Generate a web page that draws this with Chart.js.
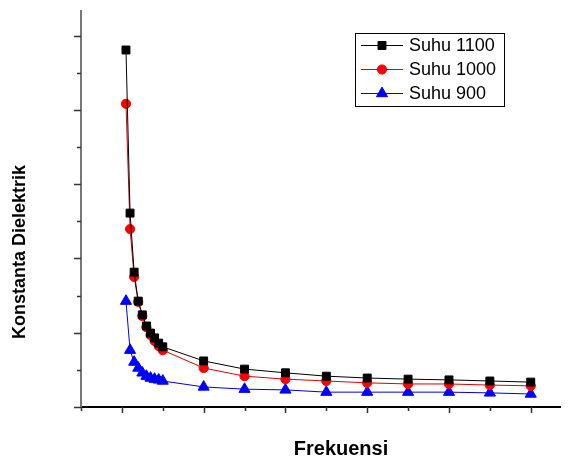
<!DOCTYPE html>
<html>
<head>
<meta charset="utf-8">
<script src="https://cdn.jsdelivr.net/npm/chart.js@4/dist/chart.umd.min.js"></script>
<style>
  body { margin: 0; background: #fff; }
</style>
</head>
<body>
<canvas id="myChart" width="568" height="463"></canvas>
<script>
/* Konstanta dielektrik vs frekuensi */

const freq = [1.1, 1.2, 1.3, 1.4, 1.5, 1.6, 1.7, 1.8, 1.9, 2.0, 3, 4, 5, 6, 7, 8, 9, 10, 11];
const suhu1100 = [9.61, 5.22, 3.63, 2.85, 2.48, 2.18, 1.99, 1.86, 1.72, 1.62, 1.24, 1.02, 0.92, 0.83, 0.78, 0.75, 0.73, 0.70, 0.67];
const suhu1000 = [8.16, 4.79, 3.50, 2.83, 2.45, 2.15, 1.94, 1.78, 1.64, 1.53, 1.05, 0.83, 0.75, 0.70, 0.65, 0.62, 0.62, 0.59, 0.57];
const suhu900 = [2.85, 1.53, 1.21, 1.05, 0.92, 0.83, 0.78, 0.75, 0.73, 0.70, 0.54, 0.48, 0.46, 0.40, 0.40, 0.40, 0.40, 0.38, 0.35];
const xTicks = [0, 1, 2, 3, 4, 5, 6, 7, 8, 9, 10, 11];
const yTicks = [0, 1, 2, 3, 4, 5, 6, 7, 8, 9, 10];

const FONT = '"Liberation Sans", Arial, sans-serif';

function pts(ys) {
  return freq.map((f, i) => ({ x: f, y: ys[i] }));
}

// ticks (major/minor), axis titles and the boxed legend
const extras = {
  id: 'extras',
  afterDraw(chart) {
    const ctx = chart.ctx;
    const xs = chart.scales.x, ys = chart.scales.y;
    const area = chart.chartArea;
    ctx.save();
    ctx.lineWidth = 1.5;
    ctx.strokeStyle = '#333';
    xTicks.forEach(v => {
      const px = Math.round(xs.getPixelForValue(v)) + 0.5;
      const len = v % 2 === 1 ? 6 : 4;
      ctx.beginPath();
      ctx.moveTo(px, area.bottom);
      ctx.lineTo(px, area.bottom + len);
      ctx.stroke();
    });
    yTicks.forEach(v => {
      const py = Math.round(ys.getPixelForValue(v)) + 0.5;
      const len = v % 2 === 0 ? 7 : 4;
      ctx.beginPath();
      ctx.moveTo(area.left - len, py);
      ctx.lineTo(area.left, py);
      ctx.stroke();
    });

    // axis titles
    ctx.fillStyle = '#000';
    ctx.textAlign = 'center';
    ctx.textBaseline = 'middle';
    ctx.font = 'bold 20px ' + FONT;
    ctx.fillText('Frekuensi', 341, 449);
    ctx.translate(20, 252);
    ctx.rotate(-Math.PI / 2);
    ctx.font = 'bold 18px ' + FONT;
    ctx.fillText('Konstanta Dielektrik', 0, 0);
    ctx.setTransform(1, 0, 0, 1, 0, 0);

    // legend
    ctx.strokeStyle = '#000';
    ctx.lineWidth = 1;
    ctx.strokeRect(355.5, 33.5, 149, 73);
    const rows = [45, 69, 93];
    ctx.font = '18px ' + FONT;
    ctx.textAlign = 'left';
    chart.data.datasets.forEach((ds, i) => {
      const y = rows[i];
      ctx.strokeStyle = ds.borderColor;
      ctx.lineWidth = 1;
      ctx.beginPath();
      ctx.moveTo(361, y + 0.5);
      ctx.lineTo(403, y + 0.5);
      ctx.stroke();
      ctx.fillStyle = ds.pointBackgroundColor;
      ctx.strokeStyle = ds.pointBackgroundColor;
      Chart.helpers.drawPoint(ctx, {
        pointStyle: ds.pointStyle,
        radius: ds.pointRadius,
        rotation: 0,
        borderWidth: 1
      }, 382, y + 0.5);
      ctx.fillStyle = '#000';
      ctx.fillText(ds.label, 409, y + 1);
    });
    ctx.restore();
  }
};

function init() {
  const data = {
    datasets: [
      {
        label: 'Suhu 1100',
        data: pts(suhu1100),
        borderColor: '#000000',
        pointBackgroundColor: '#000000',
        pointBorderColor: '#000000',
        pointStyle: 'rect',
        pointRadius: 5.6,
      },
      {
        label: 'Suhu 1000',
        data: pts(suhu1000),
        borderColor: '#e00000',
        pointBackgroundColor: '#ff0000',
        pointBorderColor: '#ff0000',
        pointStyle: 'circle',
        pointRadius: 4.6,
      },
      {
        label: 'Suhu 900',
        data: pts(suhu900),
        borderColor: '#0000e0',
        pointBackgroundColor: '#0000ff',
        pointBorderColor: '#0000ff',
        pointStyle: 'triangle',
        pointRadius: 6.4,
      },
    ]
  };

  new Chart(document.getElementById('myChart'), {
    type: 'line',
    data: data,
    options: {
      responsive: false,
      animation: false,
      devicePixelRatio: 1,
      layout: { padding: { top: 11, right: 1, left: 0, bottom: 0 } },
      elements: {
        line: { borderWidth: 1, tension: 0 },
        point: { borderWidth: 1 }
      },
      plugins: {
        legend: { display: false },
        tooltip: { enabled: false }
      },
      scales: {
        x: {
          type: 'linear',
          min: 0,
          max: 11.73,
          ticks: { display: false },
          grid: { display: false },
          border: { display: true, color: '#000', width: 2 },
          afterFit: s => { s.height = 56; }
        },
        y: {
          type: 'linear',
          min: 0,
          max: 10.66,
          ticks: { display: false },
          grid: { display: false },
          border: { display: true, color: '#777', width: 2 },
          afterFit: s => { s.width = 81; }
        }
      }
    },
    plugins: [extras]
  });
}

document.addEventListener("DOMContentLoaded", init, false);
</script>
</body>
</html>
